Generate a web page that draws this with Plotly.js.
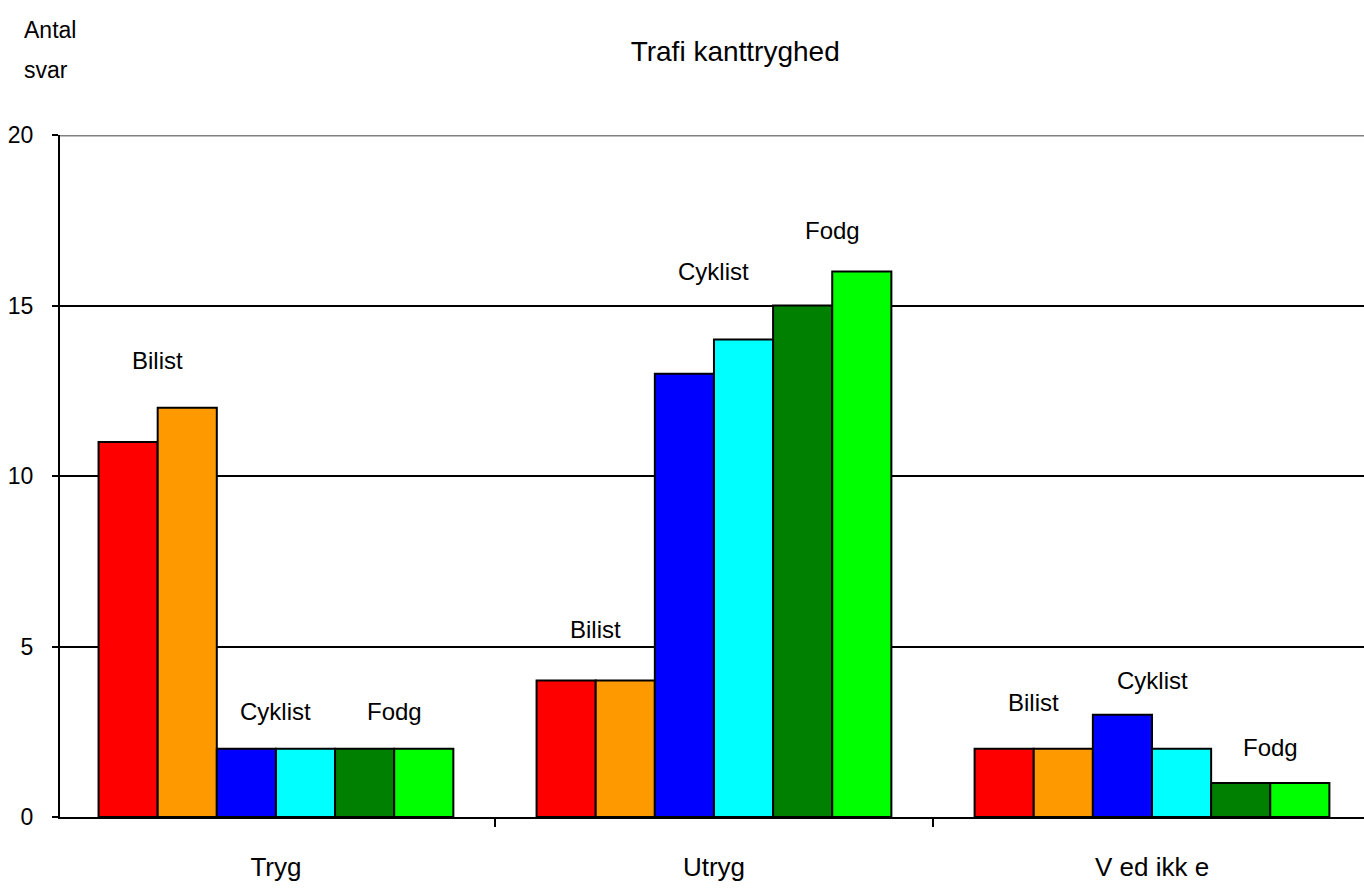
<!DOCTYPE html>
<html>
<head>
<meta charset="utf-8">
<script src="https://cdn.plot.ly/plotly-3.0.1.min.js"></script>
<style>html,body{margin:0;padding:0;background:#fff;}#chart{width:1364px;height:891px;}</style>
</head>
<body>
<div id="chart"></div>
<script>
// Data
const categories = ["Tryg", "Utryg", "Ved ikke"];
const categoryLabels = ["Tryg", "Utryg", "V ed ikk e"];
const seriesNames = ["Bilist A", "Bilist B", "Cyklist A", "Cyklist B", "Fodg A", "Fodg B"];
const seriesColors = ["#ff0000", "#ff9900", "#0000ff", "#00ffff", "#008000", "#00ff00"];
const bilistA = [11, 4, 2];
const bilistB = [12, 4, 2];
const cyklistA = [2, 13, 3];
const cyklistB = [2, 14, 2];
const fodgA = [2, 15, 1];
const fodgB = [2, 16, 1];
const seriesValues = [bilistA, bilistB, cyklistA, cyklistB, fodgA, fodgB];

// Pair labels above each bar pair (label heights)
const pairNames = ["Bilist", "Cyklist", "Fodg"];
const pairLabelY = [
  [13.4, 3.1, 3.1],   // Tryg
  [5.5, 16.0, 17.2],  // Utryg
  [3.35, 4.0, 2.05]   // Ved ikke
];
const yTicks = [0, 5, 10, 15, 20];

const bargap = 0.19;
const barUnit = (1 - bargap) / seriesValues.length;
const FONT = "Liberation Sans, Arial, sans-serif";

const traces = seriesValues.map((vals, i) => ({
  type: "bar",
  name: seriesNames[i],
  x: categories,
  y: vals,
  marker: {color: seriesColors[i], line: {color: "#000", width: 2}},
  showlegend: false,
  hoverinfo: "y"
}));

const annotations = [];
categories.forEach((c, ci) => {
  pairNames.forEach((p, pi) => {
    annotations.push({
      x: ci + (pi - 1) * 2 * barUnit,
      y: pairLabelY[ci][pi],
      xref: "x", yref: "y",
      text: p, showarrow: false,
      font: {family: FONT, size: 24, color: "#000"}
    });
  });
});
annotations.push({xref: "paper", yref: "paper", x: 0, y: 1.0, xshift: -38, yshift: 105, xanchor: "left", yanchor: "middle",
  text: "Antal", showarrow: false, font: {family: FONT, size: 23, color: "#000"}});
annotations.push({xref: "paper", yref: "paper", x: 0, y: 1.0, xshift: -38, yshift: 65, xanchor: "left", yanchor: "middle",
  text: "svar", showarrow: false, font: {family: FONT, size: 23, color: "#000"}});

const layout = {
  width: 1364, height: 891,
  margin: {l: 60, r: 0, t: 135, b: 74},
  paper_bgcolor: "#fff", plot_bgcolor: "#fff",
  title: {text: "Trafi kanttryghed", x: 0.539, xanchor: "center", y: 0.942, yanchor: "middle",
          font: {family: FONT, size: 28, color: "#000"}},
  barmode: "group",
  bargap: bargap,
  bargroupgap: 0,
  xaxis: {
    type: "category",
    tickvals: categories, ticktext: categoryLabels,
    range: [-0.493, 2.484],
    tickson: "boundaries",
    ticks: "outside", ticklen: 8, tickwidth: 2, tickcolor: "#000",
    ticklabelstandoff: 26,
    showline: true, linecolor: "#000", linewidth: 2,
    showgrid: false, zeroline: false,
    tickfont: {family: FONT, size: 26, color: "#000"}
  },
  yaxis: {
    range: [0, 20],
    tickvals: yTicks,
    ticks: "outside", ticklen: 6, tickwidth: 2, tickcolor: "#000",
    ticklabelstandoff: 14,
    showline: true, linecolor: "#000", linewidth: 2,
    showgrid: true, gridcolor: "#000", gridwidth: 2,
    zeroline: false,
    tickfont: {family: FONT, size: 23, color: "#000"}
  },
  shapes: [{type: "line", xref: "paper", yref: "y", x0: 0, x1: 1, y0: 20, y1: 20,
            line: {color: "#808080", width: 3}, layer: "above"}],
  annotations: annotations
};

Plotly.newPlot("chart", traces, layout, {displayModeBar: false, staticPlot: true});
</script>
</body>
</html>
